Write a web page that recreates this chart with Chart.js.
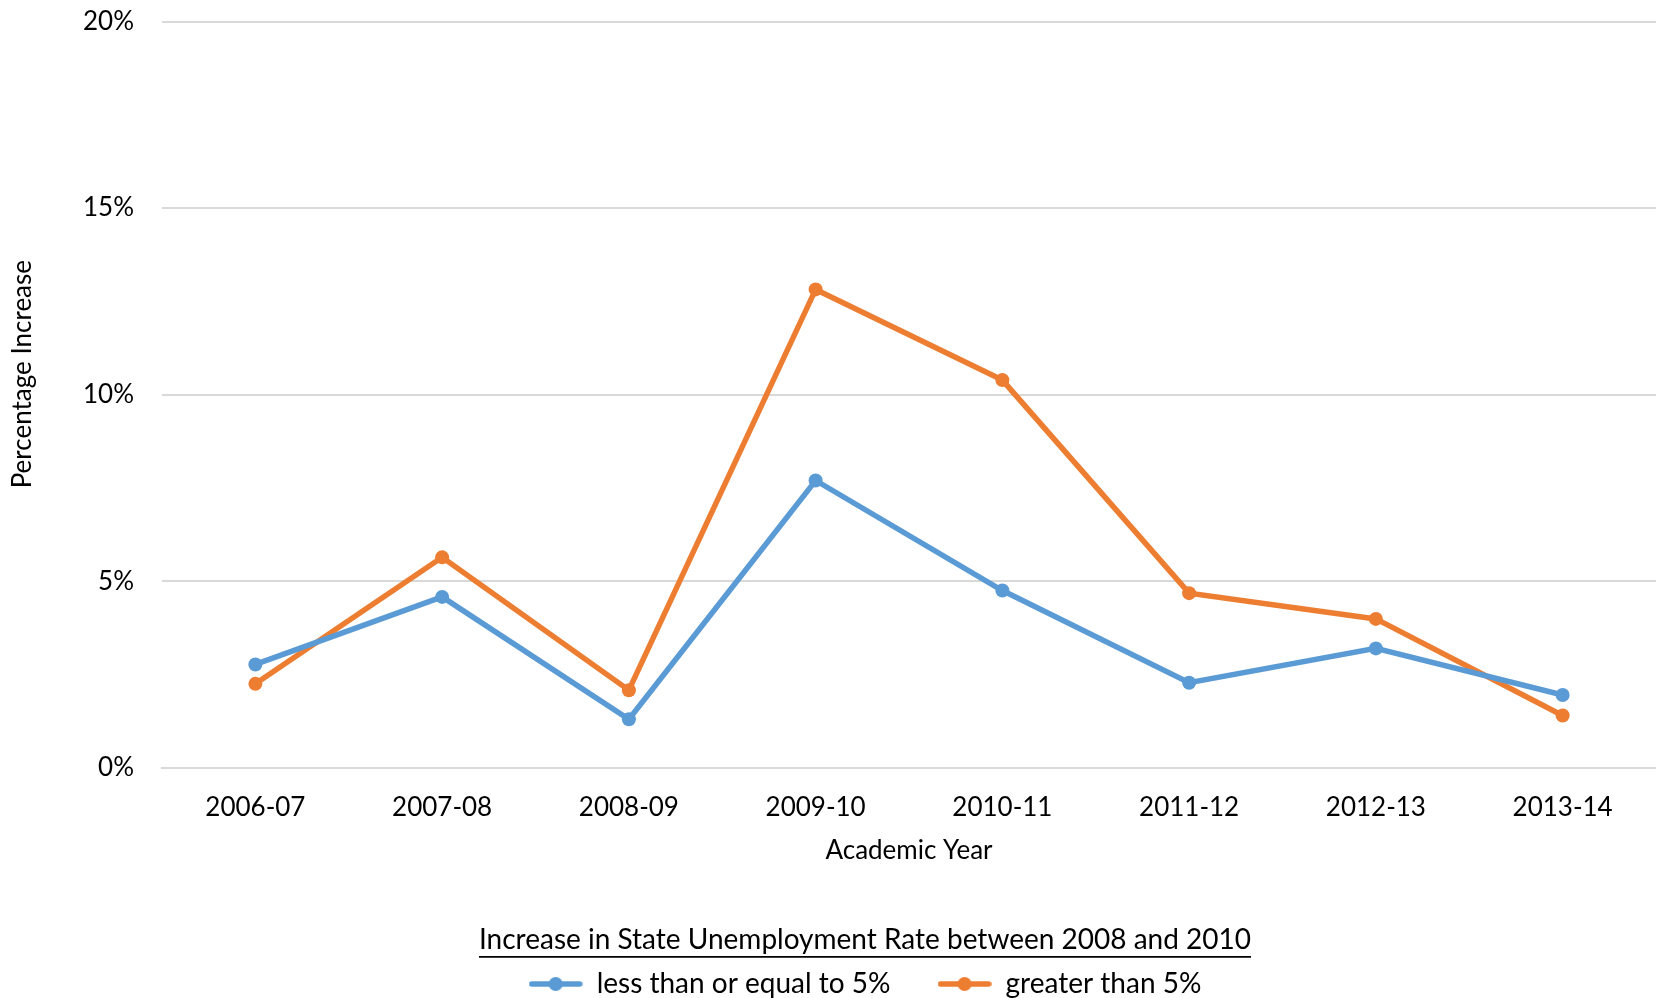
<!DOCTYPE html>
<html>
<head>
<meta charset="utf-8">
<title>Percentage Increase by Academic Year</title>
<script src="https://cdn.jsdelivr.net/npm/chart.js@4/dist/chart.umd.min.js"></script>
<style>
  html, body { margin: 0; padding: 0; background: #ffffff; overflow: hidden; }
  #wrap { position: relative; width: 1656px; height: 998px; }
</style>
</head>
<body>
<div id="wrap"><canvas id="chart" width="1656" height="998"></canvas></div>
<script>
// Academic years on the x axis
const academicYears = ['2006-07', '2007-08', '2008-09', '2009-10', '2010-11', '2011-12', '2012-13', '2013-14'];

// Percentage increase, states whose unemployment rose by at most 5 points
const lowIncrease = [2.77, 4.58, 1.30, 7.70, 4.75, 2.28, 3.20, 1.95];

// Percentage increase, states whose unemployment rose by more than 5 points
const highIncrease = [2.25, 5.64, 2.08, 12.82, 10.39, 4.68, 3.99, 1.40];

const seriesNames = ['less than or equal to 5%', 'greater than 5%'];
const legendTitle = 'Increase in State Unemployment Rate between 2008 and 2010';
const yAxisTitle = 'Percentage Increase';
const xAxisTitle = 'Academic Year';
const yTickValues = [0, 5, 10, 15, 20];

const BLUE = '#5B9BD5';
const ORANGE = '#ED7D31';
const FONT = 'Lato, "Open Sans", "Noto Sans", sans-serif';

// Let the plot run right up to the canvas edge (no extra room for point overflow)
Chart.registry.getController('line').prototype.getMaxOverflow = function () { return 0; };

// Legend swatch: a short line with a dot in the middle
function makeSwatch(color) {
  const c = document.createElement('canvas');
  c.width = 54; c.height = 18;
  const g = c.getContext('2d');
  g.strokeStyle = color; g.lineWidth = 5.5; g.lineCap = 'round';
  g.beginPath(); g.moveTo(3, 9); g.lineTo(51, 9); g.stroke();
  g.fillStyle = color;
  g.beginPath(); g.arc(27, 9, 7, 0, Math.PI * 2); g.fill();
  return c;
}
const swatches = [makeSwatch(BLUE), makeSwatch(ORANGE)];

// Nudge the legend block into place under the plot
const legendShift = {
  id: 'legendShift',
  afterLayout(chart) {
    const l = chart.legend;
    if (!l) return;
    l.left += 37; l.right += 37;
    l.top += 10; l.bottom += 10;
  }
};

// Underline the legend heading
const legendTitleUnderline = {
  id: 'legendTitleUnderline',
  afterDraw(chart) {
    const l = chart.legend;
    if (!l) return;
    const t = l.options.title;
    const size = t.font.size;
    const ctx = chart.ctx;
    ctx.save();
    ctx.font = size + 'px ' + FONT;
    const w = ctx.measureText(t.text).width;
    const cx = (l.left + l.right) / 2;
    const pad = t.padding.top || 0;
    const y = l.top + pad + size / 2 + size * 0.6;
    ctx.strokeStyle = '#000000';
    ctx.lineWidth = 1.8;
    ctx.beginPath();
    ctx.moveTo(cx - w / 2, y);
    ctx.lineTo(cx + w / 2, y);
    ctx.stroke();
    ctx.restore();
  }
};

// Vertical title of the value axis
const yTitle = {
  id: 'yTitle',
  afterDraw(chart) {
    const ctx = chart.ctx;
    const area = chart.chartArea;
    ctx.save();
    ctx.font = '26px ' + FONT;
    ctx.fillStyle = '#000000';
    ctx.textAlign = 'center';
    ctx.textBaseline = 'middle';
    ctx.translate(23, (area.top + area.bottom) / 2 - 20.5);
    ctx.rotate(-Math.PI / 2);
    ctx.fillText(yAxisTitle, 0, 0);
    ctx.restore();
  }
};

new Chart(document.getElementById('chart'), {
  type: 'line',
  data: {
    labels: academicYears,
    datasets: [
      {
        label: seriesNames[0],
        data: lowIncrease,
        borderColor: BLUE,
        backgroundColor: BLUE,
        borderWidth: 5.5,
        pointRadius: 7,
        pointHoverRadius: 7,
        pointBorderWidth: 0,
        tension: 0,
        clip: false
      },
      {
        label: seriesNames[1],
        data: highIncrease,
        borderColor: ORANGE,
        backgroundColor: ORANGE,
        borderWidth: 5.5,
        pointRadius: 7,
        pointHoverRadius: 7,
        pointBorderWidth: 0,
        tension: 0,
        clip: false
      }
    ]
  },
  options: {
    responsive: false,
    animation: false,
    layout: { padding: { top: 21.5, right: 0, bottom: 0, left: 0 } },
    plugins: {
      tooltip: { enabled: false },
      legend: {
        position: 'bottom',
        align: 'center',
        title: {
          display: true,
          text: legendTitle,
          color: '#000000',
          font: { family: FONT, size: 28 },
          padding: { top: 0, bottom: -36.6 }
        },
        labels: {
          color: '#000000',
          font: { family: FONT, size: 28 },
          usePointStyle: true,
          pointStyleWidth: 54,
          boxHeight: 18,
          padding: 47,
          generateLabels(chart) {
            return chart.data.datasets.map((ds, i) => ({
              text: ds.label,
              pointStyle: swatches[i],
              fillStyle: ds.borderColor,
              strokeStyle: ds.borderColor,
              lineWidth: 0,
              fontColor: '#000000',
              hidden: false,
              datasetIndex: i
            }));
          }
        }
      }
    },
    scales: {
      x: {
        offset: true,
        grid: { display: false, drawTicks: false },
        border: { display: true, color: '#d9d9d9', width: 2 },
        ticks: { color: '#000000', font: { family: FONT, size: 26 }, padding: 24, maxRotation: 0 },
        title: {
          display: true,
          text: xAxisTitle,
          color: '#000000',
          font: { family: FONT, size: 26 },
          padding: { top: -11.6, bottom: 49.4 }
        }
      },
      y: {
        min: 0,
        max: 20,
        afterBuildTicks(scale) {
          scale.ticks = yTickValues.map(v => ({ value: v }));
        },
        afterFit(scale) {
          scale.width = 162;
          scale.paddingTop = 16;
          scale.paddingBottom = 16;
        },
        grid: { color: '#d9d9d9', lineWidth: 2, drawTicks: false },
        border: { display: false },
        ticks: {
          color: '#000000',
          font: { family: FONT, size: 26 },
          padding: 28,
          callback: v => v + '%'
        },
        title: { display: false }
      }
    }
  },
  plugins: [legendShift, legendTitleUnderline, yTitle]
});
</script>
</body>
</html>
